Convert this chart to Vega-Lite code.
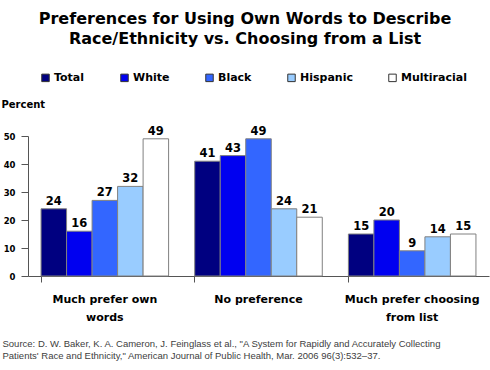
{
  "$schema": "https://vega.github.io/schema/vega-lite/v6.json",
  "width": 461,
  "height": 140,
  "autosize": {"type": "none"},
  "padding": {"left": 28, "top": 136, "right": 1, "bottom": 94},
  "background": "white",
  "title": {
    "text": ["Preferences for Using Own Words to Describe", "Race/Ethnicity vs. Choosing from a List"],
    "font": "DejaVu Sans",
    "fontSize": 16,
    "fontWeight": "bold",
    "color": "black",
    "anchor": "middle",
    "frame": "bounds",
    "lineHeight": 20,
    "offset": 25
  },
  "data": {
    "values": [
      {"category": "Much prefer own words", "group": "Total", "value": 24},
      {"category": "Much prefer own words", "group": "White", "value": 16},
      {"category": "Much prefer own words", "group": "Black", "value": 27},
      {"category": "Much prefer own words", "group": "Hispanic", "value": 32},
      {"category": "Much prefer own words", "group": "Multiracial", "value": 49},
      {"category": "No preference", "group": "Total", "value": 41},
      {"category": "No preference", "group": "White", "value": 43},
      {"category": "No preference", "group": "Black", "value": 49},
      {"category": "No preference", "group": "Hispanic", "value": 24},
      {"category": "No preference", "group": "Multiracial", "value": 21},
      {"category": "Much prefer choosing from list", "group": "Total", "value": 15},
      {"category": "Much prefer choosing from list", "group": "White", "value": 20},
      {"category": "Much prefer choosing from list", "group": "Black", "value": 9},
      {"category": "Much prefer choosing from list", "group": "Hispanic", "value": 14},
      {"category": "Much prefer choosing from list", "group": "Multiracial", "value": 15}
    ]
  },
  "encoding": {
    "x": {
      "field": "category",
      "type": "nominal",
      "sort": ["Much prefer own words", "No preference", "Much prefer choosing from list"],
      "scale": {"paddingInner": 0.17, "paddingOuter": 0.085},
      "axis": {
        "title": ["Source: D. W. Baker, K. A. Cameron, J. Feinglass et al., \"A System for Rapidly and Accurately Collecting", "Patients' Race and Ethnicity,\" American Journal of Public Health, Mar. 2006 96(3):532\u201337."],
        "titleFont": "Liberation Sans",
        "titleFontSize": 9.5,
        "titleFontWeight": "normal",
        "titleColor": "#404040",
        "titleAnchor": "start",
        "titleAlign": "left",
        "titleBaseline": "top",
        "titleX": -26,
        "titleY": 62,
        "titleLineHeight": 12,
        "labelAngle": 0,
        "labelFont": "DejaVu Sans",
        "labelFontSize": 11,
        "labelFontWeight": "bold",
        "labelColor": "black",
        "labelLineHeight": 18,
        "labelPadding": 11,
        "labelBaseline": "top",
        "labelExpr": "datum.value == 'Much prefer own words' ? ['Much prefer own', 'words'] : datum.value == 'Much prefer choosing from list' ? ['Much prefer choosing', 'from list'] : datum.value",
        "bandPosition": 0,
        "tickSize": 6,
        "tickColor": "#555555",
        "domainColor": "#555555",
        "labelLimit": 200
      }
    },
    "y": {
      "field": "value",
      "type": "quantitative",
      "scale": {"domain": [0, 50]},
      "axis": {
        "values": [0, 10, 20, 30, 40, 50],
        "grid": false,
        "title": "Percent",
        "titleAngle": 0,
        "titleAlign": "left",
        "titleBaseline": "middle",
        "titleX": -27,
        "titleY": -32,
        "titleFont": "DejaVu Sans",
        "titleFontSize": 10,
        "titleFontWeight": "bold",
        "titleColor": "black",
        "labelFont": "DejaVu Sans",
        "labelFontSize": 8.5,
        "labelFontWeight": "bold",
        "labelColor": "black",
        "labelPadding": 6,
        "tickSize": 7,
        "tickColor": "#555555",
        "domainColor": "#555555"
      }
    },
    "xOffset": {
      "field": "group",
      "type": "nominal",
      "sort": ["Total", "White", "Black", "Hispanic", "Multiracial"]
    }
  },
  "layer": [
    {
      "mark": {"type": "bar", "stroke": "#808080", "strokeWidth": 1},
      "encoding": {
        "color": {
          "field": "group",
          "type": "nominal",
          "sort": ["Total", "White", "Black", "Hispanic", "Multiracial"],
          "scale": {
            "domain": ["Total", "White", "Black", "Hispanic", "Multiracial"],
            "range": ["#000080", "#0000F0", "#3366FF", "#99CCFF", "#FFFFFF"]
          },
          "legend": {
            "title": null,
            "orient": "none",
            "direction": "horizontal",
            "columns": 5,
            "legendX": 12,
            "legendY": -64,
            "symbolType": "square",
            "symbolSize": 56,
            "symbolStrokeColor": "#333333",
            "symbolStrokeWidth": 1,
            "symbolOpacity": 1,
            "labelFont": "DejaVu Sans",
            "labelFontSize": 11,
            "labelFontWeight": "bold",
            "labelColor": "black",
            "labelOffset": 3,
            "columnPadding": 33
          }
        }
      }
    },
    {
      "mark": {"type": "text", "baseline": "bottom", "dy": -2, "font": "DejaVu Sans", "fontSize": 11.5, "fontWeight": "bold", "color": "black"},
      "encoding": {
        "text": {"field": "value", "type": "quantitative"}
      }
    }
  ],
  "config": {
    "view": {"stroke": null}
  }
}
